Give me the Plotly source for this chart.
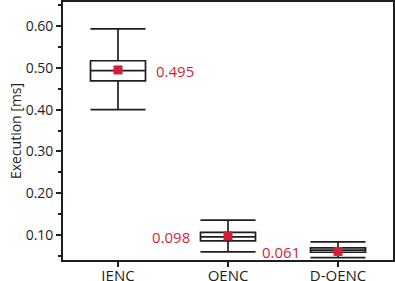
import plotly.graph_objects as go

categories = ["IENC", "OENC", "D-OENC"]
lower = [0.400, 0.060, 0.046]
q1 = [0.469, 0.086, 0.059]
median = [0.4935, 0.096, 0.064]
q3 = [0.517, 0.1065, 0.0695]
upper = [0.593, 0.136, 0.084]
means = [0.495, 0.098, 0.061]
label_side = ["right", "left", "left"]

RED = "#d21f35"
INK = "#1e1e1e"
FONT = "Open Sans"

fig = go.Figure()
fig.add_trace(go.Box(
    x=categories,
    q1=q1, median=median, q3=q3,
    lowerfence=lower, upperfence=upper,
    fillcolor="rgba(255,255,255,0)",
    line=dict(color=INK, width=1.7),
    whiskerwidth=1,
    width=0.5,
    boxpoints=False,
    showlegend=False,
    hoverinfo="skip",
))
fig.add_trace(go.Scatter(
    x=categories, y=means, mode="markers",
    marker=dict(symbol="square", size=9, color=RED),
    showlegend=False,
))
for c, m, side in zip(categories, means, label_side):
    fig.add_annotation(
        x=c, y=m, yshift=-1, text=f"{m:.3f}", showarrow=False,
        xanchor="left" if side == "right" else "right",
        xshift=36 if side == "right" else -36,
        font=dict(family=FONT, size=15, color=RED),
    )

fig.update_layout(
    width=395, height=281,
    margin=dict(l=63, r=2, t=2, b=21),
    paper_bgcolor="white", plot_bgcolor="white",
    font=dict(family=FONT, size=14, color=INK),
)
fig.update_xaxes(
    type="category", range=[-0.5, 2.5], automargin=False,
    showline=True, linecolor=INK, linewidth=1.7, mirror=True,
    ticks="outside", ticklen=5, tickcolor=INK, tickwidth=1.5,
    ticklabelstandoff=-4,
    showgrid=False, zeroline=False,
    tickfont=dict(family=FONT, size=15, color=INK),
)
fig.update_yaxes(
    range=[0.0405, 0.6575], automargin=False,
    tickvals=[0.1, 0.2, 0.3, 0.4, 0.5, 0.6], tickformat=".2f",
    showline=True, linecolor=INK, linewidth=1.7, mirror=True,
    ticks="outside", ticklen=5, tickcolor=INK, tickwidth=1.5,
    minor=dict(tickvals=[0.05, 0.15, 0.25, 0.35, 0.45, 0.55, 0.65],
               ticks="outside", ticklen=3, tickcolor=INK, tickwidth=1.5, showgrid=False),
    showgrid=False, zeroline=False,
    title=dict(text="Execution [ms]", font=dict(family=FONT, size=14, color=INK), standoff=1),
    tickfont=dict(family=FONT, size=14, color=INK),
)
fig.write_html(
    "out.html",
    config={"displayModeBar": False},
    post_script="document.body.style.margin='0';document.body.style.overflow='hidden';",
)
